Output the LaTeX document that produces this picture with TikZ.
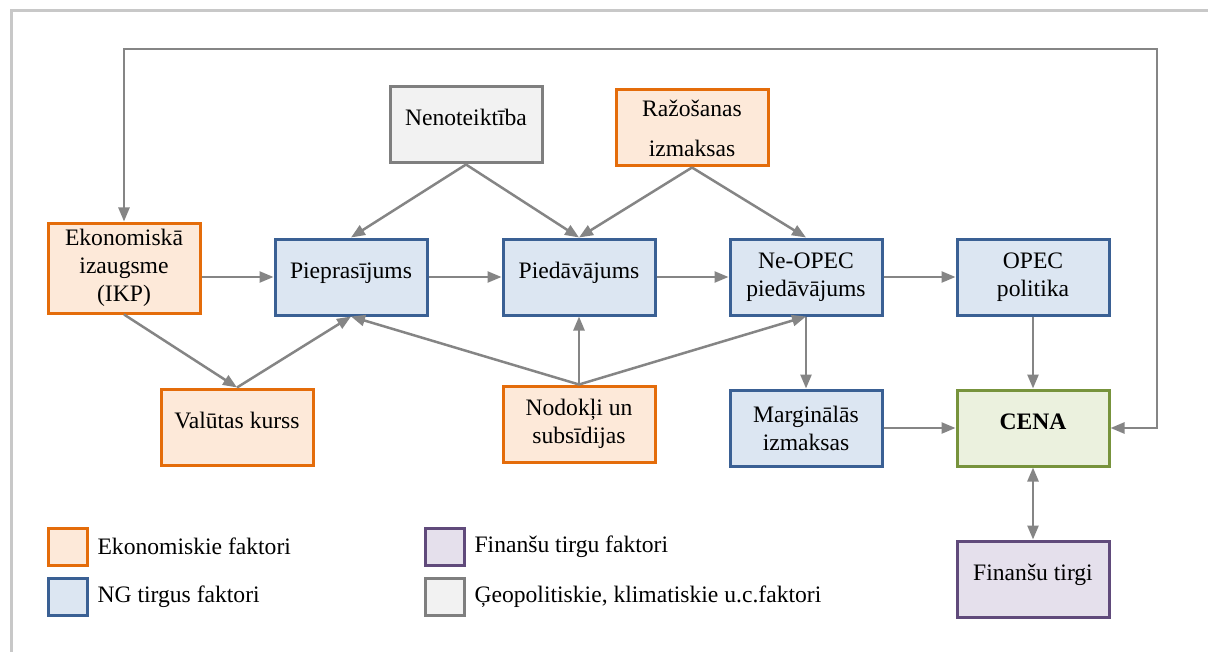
\documentclass[tikz,border=0pt]{standalone}
\usepackage{fontspec}
\setmainfont{LiberationSerif}[Extension=.ttf, UprightFont=*-Regular, BoldFont=*-Bold, ItalicFont=*-Italic]
\usetikzlibrary{arrows.meta,positioning}

\definecolor{econline}{HTML}{E46C0A}
\definecolor{econfill}{HTML}{FDE9D9}
\definecolor{ngline}{HTML}{3A6094}
\definecolor{ngfill}{HTML}{DCE6F2}
\definecolor{geoline}{HTML}{7F7F7F}
\definecolor{geofill}{HTML}{F2F2F2}
\definecolor{priceline}{HTML}{77933C}
\definecolor{pricefill}{HTML}{EBF1DE}
\definecolor{finline}{HTML}{604A7B}
\definecolor{finfill}{HTML}{E5E0EC}
\definecolor{arrgray}{HTML}{858585}
\definecolor{framegray}{HTML}{C8C8C8}

\begin{document}
\begin{tikzpicture}[x=0.5pt, y=-0.5pt, >={Triangle[length=7pt,width=5.5pt]},
	every node/.style={font=\fontsize{11.8pt}{14pt}\selectfont},
	box/.style={draw, line width=1.5pt, minimum width=76pt, minimum height=38pt, align=center, inner sep=2pt},
	oneline/.style={text height=8.5pt, text depth=7.5pt},
	econ/.style={box, draw=econline, fill=econfill},
	ngm/.style={box, draw=ngline, fill=ngfill},
	geo/.style={box, draw=geoline, fill=geofill},
	price/.style={box, draw=priceline, fill=pricefill},
	fin/.style={box, draw=finline, fill=finfill},
	arr/.style={draw=arrgray, line width=1.25pt, ->},
	legbox/.style={draw, line width=1.5pt, minimum width=19.5pt, minimum height=18.5pt, inner sep=0pt}]
				\useasboundingbox (0,0) rectangle (1208,652);
				
				% frame
				\draw[framegray, line width=1.5pt] (11,652) -- (11,11) -- (1208,11);
				
				% factor boxes
				\node[econ, minimum height=45pt] (ekon) at (124,268) {Ekonomiskā\\izaugsme\\(IKP)};
				\node[ngm, oneline] (piepr) at (351,277) {Pieprasījums};
				\node[ngm, oneline] (pied) at (579,277) {Piedāvājums};
				\node[ngm] (neopec) at (806,277) {Ne-OPEC\\piedāvājums};
				\node[ngm] (opec) at (1033,277) {OPEC\\politika};
				\node[geo, oneline] (nenot) at (466,125) {Nenoteiktība};
				\node[econ] (razos) at (692,128) {Ražošanas\\[6pt]izmaksas};
				\node[econ, oneline] (valuta) at (237,427) {Valūtas kurss};
				\node[econ] (nodok) at (579,424) {Nodokļi un\\subsīdijas};
				\node[ngm] (margin) at (806,428) {Marginālās\\izmaksas};
				\node[price, oneline] (cena) at (1033,428) {\textbf{CENA}};
				\node[fin, oneline] (fintirg) at (1033,579) {Finanšu tirgi};
				
				% links
				\coordinate (loopL) at (124,49);
				\coordinate (loopR) at (1157,49);
				\draw[arr, <->] (cena.east) -| (loopR) -- (loopL) -- (ekon.north);
				\draw[arr] (ekon.east |- piepr.west) -- (piepr.west);
				\draw[arr] (piepr) -- (pied);
				\draw[arr] (pied) -- (neopec);
				\draw[arr] (neopec) -- (opec);
				\draw[arr] (nenot.south) -- (piepr.north);
				\draw[arr] (nenot.south) -- (pied.north);
				\draw[arr] (razos.south) -- (pied.north);
				\draw[arr] (razos.south) -- (neopec.north);
				\draw[arr] (ekon.south) -- (valuta.north);
				\draw[arr] (valuta.north) -- (piepr.south);
				\draw[arr] (nodok.north) -- (piepr.south);
				\draw[arr] (nodok.north) -- (pied.south);
				\draw[arr] (nodok.north) -- (neopec.south);
				\draw[arr] (neopec) -- (margin);
				\draw[arr] (opec) -- (cena);
				\draw[arr] (margin) -- (cena);
				\draw[arr, <->] (cena) -- (fintirg);
				
				% legend
				\node[legbox, draw=econline, fill=econfill] (lg1) at (67.5,546.5) {};
				\node[legbox, draw=ngline, fill=ngfill] (lg2) at (67.5,596.5) {};
				\node[legbox, draw=finline, fill=finfill] (lg3) at (444.5,546.5) {};
				\node[legbox, draw=geoline, fill=geofill] (lg4) at (444.5,596.5) {};
				\node[right=1pt of lg1] (lt1) {Ekonomiskie faktori};
				\node[right=1pt of lg2] (lt2) {NG tirgus faktori};
				\node[right=1pt of lg3] (lt3) {Finanšu tirgu faktori};
				\node[right=1pt of lg4] (lt4) {Ģeopolitiskie, klimatiskie u.c.faktori};
			\end{tikzpicture}
\end{document}
